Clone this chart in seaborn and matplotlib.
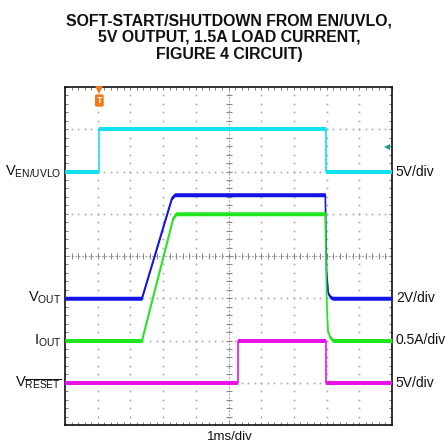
import numpy as np
import pandas as pd
import matplotlib
matplotlib.use("Agg")
import matplotlib.pyplot as plt
import seaborn as sns

# ---- waveform data (time in ms, values in physical units) ----
t_en = [0.0, 1.05, 1.05, 7.97, 7.97, 10.0]
v_en = [0.0, 0.0, 5.0, 5.0, 0.0, 0.0]            # V

t_out = [0.0, 2.35, 3.27, 3.36, 7.96, 8.00, 8.05, 8.10, 8.18, 10.0]
v_out = [0.0, 0.0, 4.75, 4.9, 4.9, 1.2, 0.24, 0.08, 0.0, 0.0]   # V

t_iout = [0.0, 2.35, 3.31, 3.40, 7.96, 8.00, 8.04, 8.10, 8.20, 10.0]
i_out = [0.0, 0.0, 1.45, 1.5, 1.5, 0.5, 0.12, 0.04, 0.0, 0.0]   # A

t_rst = [0.0, 5.30, 5.30, 7.97, 7.97, 10.0]
v_rst = [0.0, 0.0, 5.0, 5.0, 0.0, 0.0]           # V

trigger_time = 1.05

title_lines = ["SOFT-START/SHUTDOWN FROM EN/UVLO,",
               "5V OUTPUT, 1.5A LOAD CURRENT,",
               "FIGURE 4 CIRCUIT)"]
x_label = "1ms/div"

# channel: (times, values, volts-per-div, ground level in divisions, colour, left label, right label)
channels = [
    (t_en, v_en, 5.0, 6.0, "#12e2f0", r"$\mathregular{V_{EN/UVLO}}$", "5V/div"),
    (t_out, v_out, 2.0, 3.0, "#1414e6", r"$\mathregular{V_{OUT}}$", "2V/div"),
    (t_iout, i_out, 0.5, 2.0, "#20e620", r"$\mathregular{I_{OUT}}$", "0.5A/div"),
    (t_rst, v_rst, 5.0, 1.0, "#e614e6", r"$\mathregular{V_{\overline{RESET}}}$", "5V/div"),
]

sns.set_theme(style="white")
plt.rcParams["font.family"] = ["Liberation Sans", "DejaVu Sans"]
plt.rcParams["mathtext.fontset"] = "custom"
plt.rcParams["mathtext.rm"] = "Liberation Sans"

W, H = 448, 442
fig = plt.figure(figsize=(W / 100, H / 100), dpi=100)
fig.patch.set_facecolor("white")
ax_l, ax_r, ax_t, ax_b = 65, 392, 87, 425
ax = fig.add_axes([ax_l / W, 1 - ax_b / H, (ax_r - ax_l) / W, (ax_b - ax_t) / H])
ax.set_xlim(0, 10)
ax.set_ylim(0, 8)
ax.set_facecolor("white")

# graticule: dotted division lines
sub = np.arange(0.2, 10.0, 0.2)
sub_y = np.arange(0.2, 8.0, 0.2)
for gx in range(1, 10):
    if gx == 5:
        continue
    ax.plot(np.full_like(sub_y, gx), sub_y, ls="none", marker="s", ms=1.2,
            color="#a8a8a8", mew=0, zorder=1)
for gy in range(1, 8):
    if gy == 4:
        continue
    ax.plot(sub, np.full_like(sub, gy), ls="none", marker="s", ms=1.2,
            color="#a8a8a8", mew=0, zorder=1)

# centre axes with sub-division ticks
ax.axhline(4, color="#9a9a9a", lw=0.8, ls=(0, (1.5, 1.5)), zorder=1)
ax.axvline(5, color="#9a9a9a", lw=0.8, ls=(0, (1.5, 1.5)), zorder=1)
ax.plot(sub, np.full_like(sub, 4.0), ls="none", marker="|", ms=4, mew=0.8,
        color="#8a8a8a", zorder=1)
ax.plot(np.full_like(sub_y, 5.0), sub_y, ls="none", marker="_", ms=4, mew=0.8,
        color="#8a8a8a", zorder=1)

# frame ticks
ax.set_xticks(np.arange(0, 11, 1))
ax.set_yticks(np.arange(0, 9, 1))
ax.set_xticks(np.arange(0, 10.01, 0.2), minor=True)
ax.set_yticks(np.arange(0, 8.01, 0.2), minor=True)
ax.tick_params(which="both", direction="in", length=2.5, width=0.7, color="#777777",
               top=True, right=True, bottom=True, left=True,
               labelbottom=False, labelleft=False)
for s in ax.spines.values():
    s.set_color("#111111")
    s.set_linewidth(1.2)
    s.set_visible(True)

# traces
half = 2.0 / ((ax_b - ax_t) / 8.0)  # half trace thickness in divisions
for i, (tt, vv, scale, gnd, col, lab_l, lab_r) in enumerate(channels):
    tt = np.asarray(tt)
    yy = gnd + np.asarray(vv) / scale
    df = pd.DataFrame({"t": tt, "y": yy})
    ax.fill_between(tt, yy - half, yy + half, color=col, lw=0, zorder=3 + i)
    sns.lineplot(data=df, x="t", y="y", ax=ax, color=col, lw=1.2,
                 estimator=None, sort=False, zorder=3 + i)
    ax.text(-0.12, gnd, lab_l, ha="right", va="center", fontsize=10.5,
            color="#111111")
    ax.text(10.12, gnd, lab_r, ha="left", va="center", fontsize=10,
            color="#111111")

ax.set_xlabel("")
ax.set_ylabel("")

# trigger marker
ax.plot([trigger_time], [7.93], marker="v", ms=5.5, color="#f07818", mew=0,
        zorder=10, clip_on=False)
ax.text(trigger_time, 7.68, "T", ha="center", va="center", fontsize=6.5,
        color="white", fontweight="bold", zorder=11,
        bbox=dict(boxstyle="round,pad=0.18", fc="#f07818", ec="none"))
# channel-1 level arrow
ax.plot([9.85], [6.58], marker="<", ms=4.5, color="#1a9a9a", mew=0, zorder=10)

fig.text(230 / W, 1 - 437 / H, x_label, ha="center", va="center", fontsize=9.5,
         color="#111111")

for line, base in zip(title_lines, [25.0, 41.7, 59.0]):
    fig.text(229 / W, 1 - base / H, line, ha="center", va="baseline",
             fontsize=11.4, fontweight="bold", color="#111111")

fig.savefig("out.png", dpi=100, facecolor="white")
